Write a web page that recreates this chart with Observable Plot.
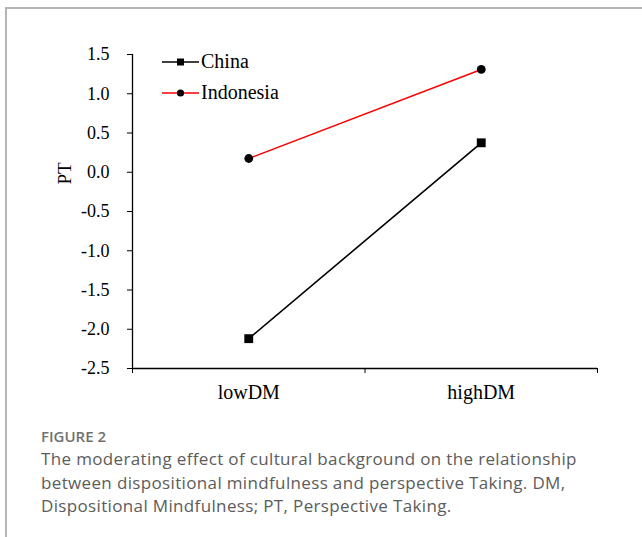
<!DOCTYPE html>
<html>
<head>
<meta charset="utf-8">
<script src="https://cdn.jsdelivr.net/npm/d3@7"></script>
<script src="https://cdn.jsdelivr.net/npm/@observablehq/plot@0.6"></script>
<style>
  html, body { margin: 0; padding: 0; background: #fff; }
  #wrap { position: relative; width: 642px; height: 537px; overflow: hidden; }
  #frame { position: absolute; left: 5px; top: 7px; width: 660px; height: 560px;
           border-top: 2px solid #b5b5b5; border-left: 2px solid #b5b5b5; }
  #chart { position: absolute; left: 0; top: 0; }
  #legend { position: absolute; left: 162px; top: 46px; font-family: "Liberation Serif", serif; font-size: 20px; color: #000; }
  .row { display: flex; align-items: center; height: 31px; }
  .row svg { display: block; margin-right: 2px; }
  #caption { position: absolute; left: 41px; top: 426px; font-family: "Open Sans", sans-serif; }
  #caption .fig { font-size: 15px; font-weight: 600; color: #707070; margin-bottom: 1px; }
  #caption .txt { font-size: 17px; letter-spacing: 0.35px; line-height: 23.5px; color: #5c5c5c; white-space: nowrap; }
</style>
</head>
<body>
<div id="wrap">
  <div id="frame"></div>
  <div id="chart"></div>
  <div id="legend"></div>
  <div id="caption">
    <div class="fig">FIGURE 2</div>
    <div class="txt">The moderating effect of cultural background on the relationship<br>between dispositional mindfulness and perspective Taking. DM,<br>Dispositional Mindfulness; PT, Perspective Taking.</div>
  </div>
</div>
<script>
const categories = ["lowDM", "highDM"];
const seriesNames = ["China", "Indonesia"];
const seriesColors = ["#000000", "#ff0000"];
const chinaValues = [-2.12, 0.375];
const indonesiaValues = [0.175, 1.31];
const yTicks = [-2.5, -2.0, -1.5, -1.0, -0.5, 0.0, 0.5, 1.0, 1.5];
const yLabel = "PT";

const rows = [];
categories.forEach((c, i) => {
  rows.push({series: "China", cat: c, pos: i + 0.5, value: chinaValues[i]});
  rows.push({series: "Indonesia", cat: c, pos: i + 0.5, value: indonesiaValues[i]});
});

const chart = Plot.plot({
  width: 642,
  height: 420,
  marginLeft: 132,
  marginRight: 45,
  marginTop: 54,
  marginBottom: 52,
  style: { fontFamily: "'Liberation Serif', serif", fontSize: "18px", color: "#000", background: "transparent", overflow: "visible" },
  x: { domain: [0, categories.length] },
  y: { domain: [yTicks[0], yTicks[yTicks.length - 1]] },
  color: { domain: seriesNames, range: seriesColors },
  marks: [
    Plot.axisY({ ticks: yTicks, tickFormat: d => d.toFixed(1), tickSize: 5, tickPadding: 18, label: null, fontSize: 18 }),
    Plot.axisX({ ticks: d3.range(categories.length + 1), tickFormat: () => "", tickSize: 5, label: null }),
    Plot.axisX({ ticks: categories.map((c, i) => i + 0.5), tickFormat: d => categories[Math.floor(d)], tickSize: 0, tickPadding: 16, label: null, fontSize: 20 }),
    Plot.ruleX([0], { stroke: "#000", strokeWidth: 1.3 }),
    Plot.ruleY([yTicks[0]], { stroke: "#000", strokeWidth: 1.3 }),
    Plot.line(rows, { x: "pos", y: "value", z: "series", stroke: "series", strokeWidth: 1.6 }),
    Plot.dot(rows.filter(d => d.series === "China"), { x: "pos", y: "value", symbol: "square", r: 5, fill: "#000", stroke: "none" }),
    Plot.dot(rows.filter(d => d.series === "Indonesia"), { x: "pos", y: "value", symbol: "circle", r: 4.4, fill: "#000", stroke: "none" }),
    Plot.text([yLabel], { frameAnchor: "left", rotate: -90, dx: -68, dy: -27, fontSize: 19, fill: "#000" })
  ]
});
document.getElementById("chart").appendChild(chart);

// legend
const legend = document.getElementById("legend");
seriesNames.forEach((name, i) => {
  const row = document.createElement("div");
  row.className = "row";
  const ns = "http://www.w3.org/2000/svg";
  const svg = document.createElementNS(ns, "svg");
  svg.setAttribute("width", 37); svg.setAttribute("height", 20);
  const ln = document.createElementNS(ns, "line");
  ln.setAttribute("x1", 0); ln.setAttribute("x2", 37); ln.setAttribute("y1", 10); ln.setAttribute("y2", 10);
  ln.setAttribute("stroke", seriesColors[i]); ln.setAttribute("stroke-width", 1.6);
  svg.appendChild(ln);
  let m;
  if (i === 0) {
    m = document.createElementNS(ns, "rect");
    m.setAttribute("x", 18.5 - 3.5); m.setAttribute("y", 10 - 3.5); m.setAttribute("width", 7); m.setAttribute("height", 7);
  } else {
    m = document.createElementNS(ns, "circle");
    m.setAttribute("cx", 18.5); m.setAttribute("cy", 10); m.setAttribute("r", 3.6);
  }
  m.setAttribute("fill", "#000");
  svg.appendChild(m);
  row.appendChild(svg);
  const t = document.createElement("span");
  t.textContent = name;
  row.appendChild(t);
  legend.appendChild(row);
});
</script>
</body>
</html>
